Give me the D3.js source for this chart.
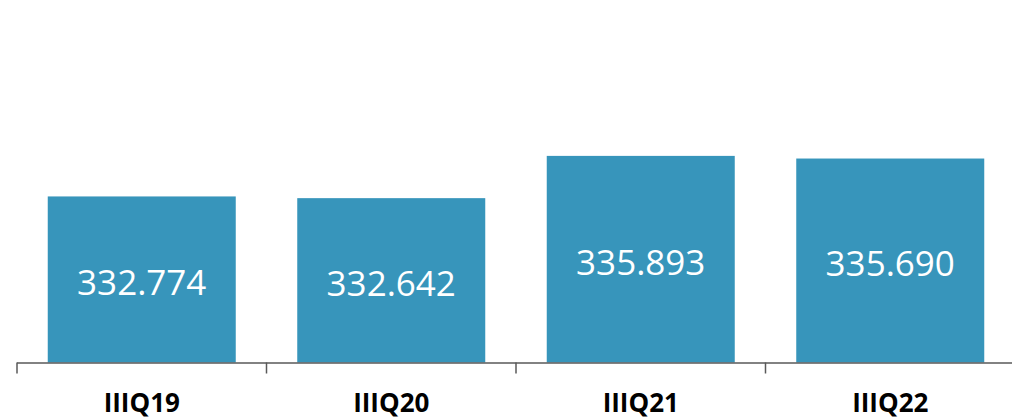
<!DOCTYPE html>
<html>
<head>
<meta charset="utf-8">
<script src="https://cdn.jsdelivr.net/npm/d3@7"></script>
<style>
  html, body { margin: 0; padding: 0; background: #ffffff; }
  svg { display: block; }
</style>
</head>
<body>
<svg id="chart" width="1012" height="419"></svg>
<script>
// Quarterly values (third quarter of each year)
const categories = ["IIIQ19", "IIIQ20", "IIIQ21", "IIIQ22"];
const values = [332.774, 332.642, 335.893, 335.690];
const valueLabels = ["332.774", "332.642", "335.893", "335.690"];
const yDomain = [320, 348];

const svg = d3.select("#chart");
const baseY = 362.5;

const x = d3.scaleBand()
  .domain(categories)
  .range([17, 1015])
  .paddingInner(0.2465)
  .paddingOuter(0.2465 / 2);

const y = d3.scaleLinear()
  .domain(yDomain)
  .range([baseY, -1.5]);

// Bars
svg.append("g")
  .selectAll("rect")
  .data(values)
  .join("rect")
  .attr("x", (d, i) => x(categories[i]))
  .attr("width", x.bandwidth())
  .attr("y", d => y(d))
  .attr("height", d => baseY - y(d))
  .attr("fill", "#3795bb");

// Value labels, centred inside each bar
svg.append("g")
  .selectAll("text")
  .data(values)
  .join("text")
  .attr("x", (d, i) => x(categories[i]) + x.bandwidth() / 2)
  .attr("y", d => (y(d) + baseY) / 2 + 2)
  .attr("text-anchor", "middle")
  .attr("dominant-baseline", "central")
  .attr("font-family", "'Open Sans', sans-serif")
  .attr("font-size", 35)
  .attr("fill", "#ffffff")
  .text((d, i) => valueLabels[i]);

// Category axis with ticks on band boundaries
const axisG = svg.append("g");
axisG.append("line")
  .attr("x1", x.range()[0]).attr("x2", x.range()[1])
  .attr("y1", baseY + 0.5).attr("y2", baseY + 0.5)
  .attr("stroke", "#595959")
  .attr("stroke-width", 1.5);

const step = x.step();
const boundaries = d3.range(categories.length + 1).map(i => x.range()[0] + i * step);
axisG.selectAll("line.tick")
  .data(boundaries)
  .join("line")
  .attr("class", "tick")
  .attr("x1", d => d).attr("x2", d => d)
  .attr("y1", baseY).attr("y2", baseY + 11)
  .attr("stroke", "#595959")
  .attr("stroke-width", 1.5);

axisG.selectAll("text")
  .data(categories)
  .join("text")
  .attr("x", d => x(d) + x.bandwidth() / 2)
  .attr("y", 411.5)
  .attr("text-anchor", "middle")
  .attr("font-family", "'Open Sans', sans-serif")
  .attr("font-weight", "bold")
  .attr("font-size", 26)
  .attr("fill", "#000000")
  .text(d => d);
</script>
</body>
</html>
